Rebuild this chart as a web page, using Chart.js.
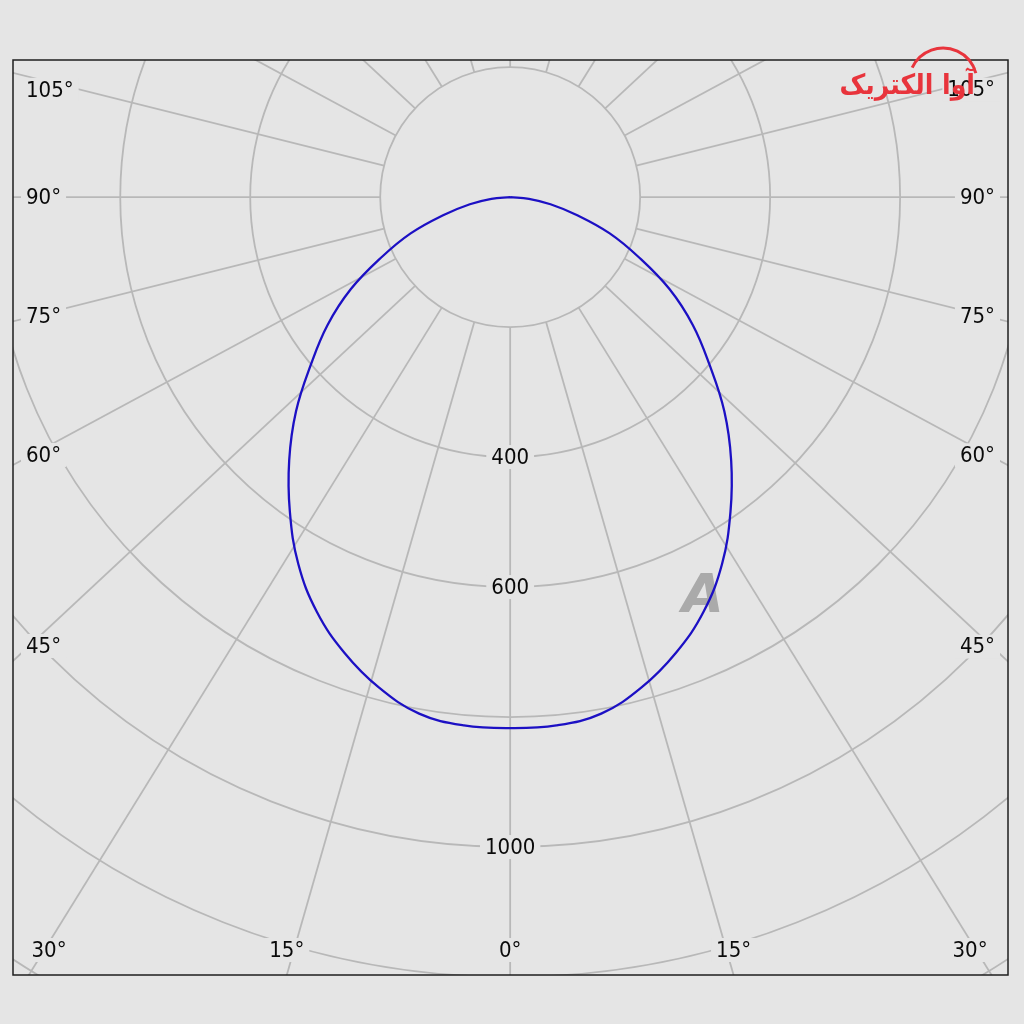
<!DOCTYPE html>
<html>
<head>
<meta charset="utf-8">
<script src="https://cdn.jsdelivr.net/npm/chart.js@4.4.0/dist/chart.umd.min.js"></script>
<style>
  html, body { margin: 0; padding: 0; background: #e5e5e5; }
  #wrap { width: 1024px; height: 1024px; }
</style>
</head>
<body>
<div id="wrap"><canvas id="polar" width="1024" height="1024"></canvas></div>
<script>
// Courbe photométrique : angle depuis le nadir (négatif = côté gauche) et intensité
const angles = [-90, -85, -80, -75, -70, -65, -60, -55, -50, -45, -40, -35, -30, -25, -20, -15, -10, -5,
                0, 5, 10, 15, 20, 25, 30, 35, 40, 45, 50, 55, 60, 65, 70, 75, 80, 85, 90];
const intensity = [0, 29, 63, 106, 163, 218, 283, 343, 400, 466, 529, 591, 652, 704, 746, 781, 807, 816,
                   817, 816, 807, 781, 746, 704, 652, 591, 529, 466, 400, 343, 283, 218, 163, 106, 63, 29, 0];

// grille
const ringValues = [200, 400, 600, 800, 1000, 1200, 1400, 1600];
const ringLabels = [400, 600, 1000];
const sideLabels = [45, 60, 75, 90, 105];
const bottomLabels = [-30, -15, 0, 15, 30];

const BG = '#e5e5e5';
const GRID = '#b8b8b8';
const CURVE = '#1c10c4';
const LEAN = 0.933; // les rayons du modèle penchent un peu vers l'extérieur
const FONT = '22px "DejaVu Sans Condensed", "DejaVu Sans", sans-serif';

function rad(d) { return d * Math.PI / 180; }

// direction d'un rayon en pixels (y vers le bas)
function spokeDir(deg) {
    const sx = Math.sin(rad(deg)), sy = Math.cos(rad(deg)) * LEAN;
    const n = Math.hypot(sx, sy);
    return [sx / n, sy / n];
}

function labelBox(ctx, text, x, y, align) {
    ctx.font = FONT;
    const w = ctx.measureText(text).width;
    let left = x - w / 2;
    if (align === 'left') left = x;
    if (align === 'right') left = x - w;
    ctx.fillStyle = BG;
    ctx.fillRect(left - 5, y - 12, w + 10, 24);
    ctx.fillStyle = '#0a0a0a';
    ctx.textAlign = align;
    ctx.textBaseline = 'middle';
    ctx.fillText(text, x, y + 1);
}

const polarGrid = {
    id: 'polarGrid',
    beforeDatasetsDraw(chart) {
        const { ctx, chartArea: a, scales: { x, y } } = chart;
        const cx = x.getPixelForValue(0), cy = y.getPixelForValue(0);
        const px = v => x.getPixelForValue(v) - cx;

        ctx.save();
        ctx.fillStyle = BG;
        ctx.fillRect(a.left, a.top, a.right - a.left, a.bottom - a.top);
        ctx.beginPath();
        ctx.rect(a.left, a.top, a.right - a.left, a.bottom - a.top);
        ctx.clip();

        ctx.strokeStyle = GRID;
        ctx.lineWidth = 1.8;
        ringValues.forEach(v => {
            ctx.beginPath();
            ctx.arc(cx, cy, px(v), 0, 2 * Math.PI);
            ctx.stroke();
        });
        for (let deg = 0; deg < 360; deg += 15) {
            const [dx, dy] = spokeDir(deg);
            const r0 = px(ringValues[0]), r1 = px(3000);
            ctx.beginPath();
            ctx.moveTo(cx + dx * r0, cy + dy * r0);
            ctx.lineTo(cx + dx * r1, cy + dy * r1);
            ctx.stroke();
        }

        // valeurs des cercles
        ringLabels.forEach(v => labelBox(ctx, String(v), cx, cy + px(v), 'center'));

        // angles sur les côtés : le texte se pose contre le point où le rayon sort du cadre
        sideLabels.forEach(deg => {
            [-1, 1].forEach(side => {
                const [dx, dy] = spokeDir(deg * side);
                const xe = side < 0 ? a.left : a.right;
                const yHit = cy + dy * (xe - cx) / dx;
                const shift = deg < 90 ? -(90 - deg) / 3 : deg > 90 ? 17 : 0;
                const yl = yHit + shift;
                if (side < 0) labelBox(ctx, deg + '°', a.left + 13, yl, 'left');
                else labelBox(ctx, deg + '°', a.right - 13, yl, 'right');
            });
        });

        // angles en bas
        bottomLabels.forEach(deg => {
            const [dx, dy] = spokeDir(deg);
            const xHit = cx + dx * (a.bottom - cy) / dy;
            const xl = Math.min(Math.max(xHit, a.left + 36), a.right - 38);
            labelBox(ctx, Math.abs(deg) + '°', xl, a.bottom - 25, 'center');
        });

        // filigrane
        ctx.font = 'bold italic 54px "DejaVu Sans", sans-serif';
        ctx.fillStyle = 'rgba(150,150,150,0.75)';
        ctx.textAlign = 'center';
        ctx.textBaseline = 'middle';
        ctx.fillText('A', 703, 598);
        ctx.restore();
    },
    afterDatasetsDraw(chart) {
        const { ctx, chartArea: a } = chart;
        ctx.save();
        ctx.strokeStyle = '#1e1e1e';
        ctx.lineWidth = 1.5;
        ctx.strokeRect(a.left, a.top, a.right - a.left, a.bottom - a.top);

        // logo
        ctx.fillStyle = '#e8343c';
        ctx.strokeStyle = '#e8343c';
        ctx.font = 'bold 28px "DejaVu Sans Condensed", "DejaVu Sans", sans-serif';
        ctx.textAlign = 'right';
        ctx.textBaseline = 'alphabetic';
        ctx.direction = 'rtl';
        ctx.fillText('آوا الکتریک', 975, 94);
        ctx.lineWidth = 3;
        ctx.beginPath();
        ctx.arc(943, 82, 34, rad(205), rad(345));
        ctx.stroke();
        ctx.restore();
    }
};

const points = angles.map((deg, i) => ({
    x: intensity[i] * Math.sin(rad(deg)),
    y: -intensity[i] * Math.cos(rad(deg))
}));

new Chart(document.getElementById('polar'), {
    type: 'scatter',
    data: {
        datasets: [{
            label: 'Intensité',
            data: points,
            showLine: true,
            borderColor: CURVE,
            borderWidth: 2.3,
            pointRadius: 0,
            tension: 0.4,
            fill: false
        }]
    },
    options: {
        responsive: false,
        animation: false,
        devicePixelRatio: 1,
        layout: { padding: { left: 13, top: 60, right: 16, bottom: 49 } },
        scales: {
            x: { type: 'linear', min: -765, max: 766, display: false },
            y: { type: 'linear', min: -1197, max: 211, display: false }
        },
        plugins: {
            legend: { display: false },
            tooltip: { enabled: false }
        }
    },
    plugins: [polarGrid]
});
</script>
</body>
</html>
